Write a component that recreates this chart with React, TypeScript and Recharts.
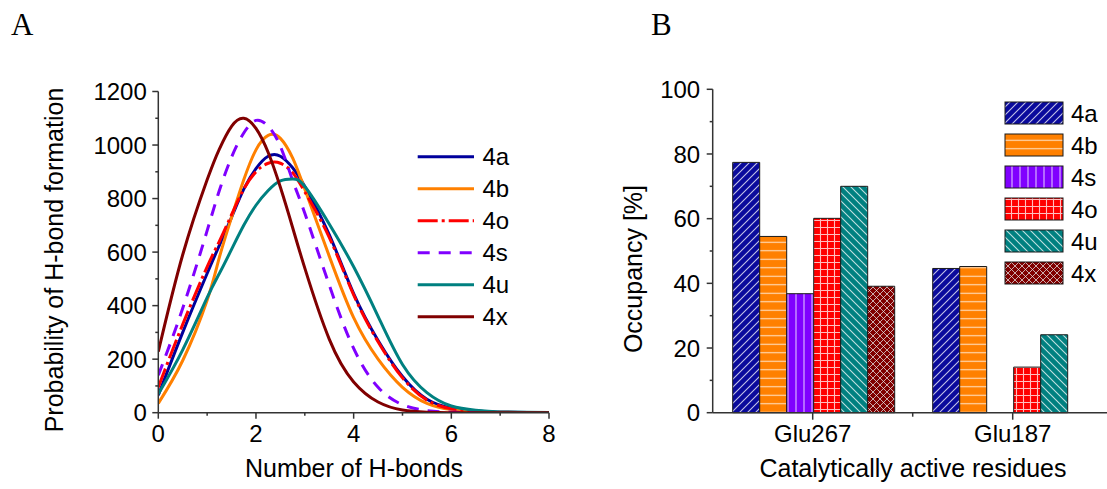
import React from 'react';
import { LineChart, Line, XAxis, YAxis, BarChart, Bar } from 'recharts';

const FONT = '"Liberation Sans", Arial, sans-serif';
const SERIF = '"Liberation Serif", "Times New Roman", serif';
const AXIS = '#333';

// ---------- Panel A data ----------
const X_A = [0, 0.5, 1, 1.25, 1.5, 1.75, 2, 2.25, 2.5, 2.75, 3, 3.5, 4, 4.5, 5, 5.5, 6, 6.5, 7, 8];
const P_4a = [65, 300, 520, 625, 730, 835, 912, 958, 958, 915, 845, 665, 445, 270, 135, 50, 17, 6, 2, 0];
const P_4b = [35, 195, 420, 580, 730, 870, 982, 1036, 1025, 952, 835, 585, 355, 200, 95, 35, 12, 4, 1, 0];
const P_4o = [95, 330, 545, 640, 740, 835, 900, 932, 932, 897, 825, 655, 440, 265, 130, 47, 15, 5, 2, 0];
const P_4s = [140, 390, 680, 830, 955, 1045, 1092, 1070, 995, 868, 745, 477, 240, 95, 30, 8, 2, 0, 0, 0];
const P_4u = [70, 235, 430, 520, 610, 700, 775, 830, 866, 873, 845, 705, 545, 360, 180, 75, 25, 9, 3, 1];
const P_4x = [228, 590, 870, 985, 1070, 1100, 1062, 972, 842, 692, 540, 275, 115, 40, 10, 2, 0, 0, 0, 0];

const SERIES_A = [
  { key: '4a', color: '#00009C', dash: undefined as string | undefined, values: P_4a },
  { key: '4b', color: '#FF8000', dash: undefined, values: P_4b },
  { key: '4o', color: '#FF0000', dash: '20 4 3 4', values: P_4o },
  { key: '4s', color: '#8000FF', dash: '12 9', values: P_4s },
  { key: '4u', color: '#008080', dash: undefined, values: P_4u },
  { key: '4x', color: '#800000', dash: undefined, values: P_4x },
];

const X_TICKS_A = [0, 1, 2, 3, 4, 5, 6, 7, 8];
const X_LABELS_A = [0, 2, 4, 6, 8];
const Y_TICKS_A = [0, 100, 200, 300, 400, 500, 600, 700, 800, 900, 1000, 1100, 1200];
const Y_LABELS_A = [0, 200, 400, 600, 800, 1000, 1200];

const rowsA = X_A.map((x, i) => {
  const r: Record<string, number> = { x };
  SERIES_A.forEach((s) => { r[s.key] = s.values[i]; });
  return r;
});

// ---------- Panel B data ----------
const CATS = ['Glu267', 'Glu187'];
const B_4a = [77.4, 44.6];
const B_4b = [54.5, 45.2];
const B_4s = [36.8, 0];
const B_4o = [60.1, 14.1];
const B_4u = [70.0, 24.1];
const B_4x = [39.1, 0];

const SERIES_B = [
  { key: '4a', color: '#0A0A9C', values: B_4a },
  { key: '4b', color: '#FF8000', values: B_4b },
  { key: '4s', color: '#8000FF', values: B_4s },
  { key: '4o', color: '#FF0000', values: B_4o },
  { key: '4u', color: '#008080', values: B_4u },
  { key: '4x', color: '#800000', values: B_4x },
];

const Y_TICKS_B = [0, 10, 20, 30, 40, 50, 60, 70, 80, 90, 100];
const Y_LABELS_B = [0, 20, 40, 60, 80, 100];

const rowsB = CATS.map((c, i) => {
  const r: Record<string, any> = { cat: c };
  SERIES_B.forEach((s) => { r[s.key] = s.values[i]; });
  return r;
});

// ---------- layout ----------
const A_W = 600;
const H = 489;
const A_MARGIN = { top: 91.5, right: 51, left: 98.3, bottom: 36.3 };
const B_LEFT = 600;
const B_W = 520;
const B_MARGIN = { top: 89.3, right: 7.3, left: 52.7, bottom: 36.3 };
const Y_AXIS_W = 60;
const X_AXIS_H = 40;
const B_PLOT_W = B_W - B_MARGIN.left - B_MARGIN.right - Y_AXIS_W;
const HALF_BAND_B = B_PLOT_W / CATS.length / 2;

const TICK_FONT = 24;

function XTickA(props: any) {
  const { x, y, payload } = props;
  const major = X_LABELS_A.includes(payload.value);
  return (
    <g>
      <line x1={x} x2={x} y1={y} y2={y + (major ? 6 : 3)} stroke={AXIS} strokeWidth={1.5} />
      {major && (
        <text x={x} y={y + 29.5} textAnchor="middle" fontSize={TICK_FONT} fontFamily={FONT} fill="#000">
          {payload.value}
        </text>
      )}
    </g>
  );
}

function YTickA(props: any) {
  const { x, y, payload } = props;
  const major = Y_LABELS_A.includes(payload.value);
  return (
    <g>
      <line x1={x - (major ? 6 : 3)} x2={x} y1={y} y2={y} stroke={AXIS} strokeWidth={1.5} />
      {major && (
        <text x={x - 11.5} y={y + 8.6} textAnchor="end" fontSize={TICK_FONT} fontFamily={FONT} fill="#000">
          {payload.value}
        </text>
      )}
    </g>
  );
}

function YTickB(props: any) {
  const { x, y, payload } = props;
  const major = Y_LABELS_B.includes(payload.value);
  return (
    <g>
      <line x1={x - (major ? 6 : 3)} x2={x} y1={y} y2={y} stroke={AXIS} strokeWidth={1.5} />
      {major && (
        <text x={x - 12.5} y={y + 8.6} textAnchor="end" fontSize={TICK_FONT} fontFamily={FONT} fill="#000">
          {payload.value}
        </text>
      )}
    </g>
  );
}

function XTickB(props: any) {
  const { x, y, payload } = props;
  return (
    <g>
      <line x1={x} x2={x} y1={y} y2={y + 7} stroke={AXIS} strokeWidth={1.5} />
      <line x1={x + HALF_BAND_B} x2={x + HALF_BAND_B} y1={y} y2={y + 4} stroke={AXIS} strokeWidth={1.5} />
      <text x={x} y={y + 29.5} textAnchor="middle" fontSize={TICK_FONT} fontFamily={FONT} fill="#000">
        {payload.value}
      </text>
    </g>
  );
}

function Patterns() {
  const ln = 'rgba(255,255,255,0.75)';
  return (
    <defs>
      <pattern id="pat-4a" patternUnits="userSpaceOnUse" width="8" height="8">
        <rect width="8" height="8" fill="#0A0A9C" />
        <path d="M-2,2 L2,-2 M0,8 L8,0 M6,10 L10,6" stroke={ln} strokeWidth="1.1" />
      </pattern>
      <pattern id="pat-4b" patternUnits="userSpaceOnUse" width="8" height="8.5">
        <rect width="8" height="8.5" fill="#FF8000" />
        <path d="M0,4.25 L8,4.25" stroke={ln} strokeWidth="1.1" />
      </pattern>
      <pattern id="pat-4s" patternUnits="userSpaceOnUse" width="8" height="8">
        <rect width="8" height="8" fill="#8000FF" />
        <path d="M4,0 L4,8" stroke={ln} strokeWidth="1.1" />
      </pattern>
      <pattern id="pat-4o" patternUnits="userSpaceOnUse" width="7" height="7">
        <rect width="7" height="7" fill="#FF0000" />
        <path d="M3.5,0 L3.5,7 M0,3.5 L7,3.5" stroke={ln} strokeWidth="1.1" />
      </pattern>
      <pattern id="pat-4u" patternUnits="userSpaceOnUse" width="8" height="8">
        <rect width="8" height="8" fill="#008080" />
        <path d="M-2,6 L2,10 M0,0 L8,8 M6,-2 L10,2" stroke={ln} strokeWidth="1.1" />
      </pattern>
      <pattern id="pat-4x" patternUnits="userSpaceOnUse" width="7" height="7">
        <rect width="7" height="7" fill="#800000" />
        <path d="M0,0 L7,7 M0,7 L7,0" stroke="rgba(230,230,230,0.75)" strokeWidth="1" />
      </pattern>
    </defs>
  );
}

const LEG_A_X1 = 417.7;
const LEG_A_X2 = 474;
const LEG_A_TEXT = 482.5;
const LEG_A_TOP = 156.7;
const LEG_STEP = 32;
const LEG_B_X = 1005;
const LEG_B_W = 58;
const LEG_B_H = 22;
const LEG_B_TEXT = 1071;
const LEG_B_TOP = 113;

export default function App() {
  return (
    <div
      style={{
        position: 'absolute',
        left: 0,
        top: 0,
        width: 1107,
        height: 489,
        overflow: 'hidden',
        background: '#fff',
        fontFamily: FONT,
      }}
    >
      <div style={{ position: 'absolute', left: 0, top: 0 }}>
        <LineChart width={A_W} height={H} data={rowsA} margin={A_MARGIN}>
          <XAxis
            dataKey="x"
            type="number"
            domain={[0, 8]}
            ticks={X_TICKS_A}
            interval={0}
            height={X_AXIS_H}
            tickLine={false}
            tickSize={0}
            tickMargin={0}
            tick={XTickA}
            axisLine={{ stroke: AXIS, strokeWidth: 1.5 }}
            allowDataOverflow
          />
          <YAxis
            type="number"
            domain={[0, 1200]}
            ticks={Y_TICKS_A}
            interval={0}
            width={Y_AXIS_W}
            tickLine={false}
            tickSize={0}
            tickMargin={0}
            tick={YTickA}
            axisLine={{ stroke: AXIS, strokeWidth: 1.5 }}
            allowDataOverflow
          />
          {SERIES_A.map((s) => (
            <Line
              key={s.key}
              type="natural"
              dataKey={s.key}
              stroke={s.color}
              strokeWidth={3}
              strokeDasharray={s.dash}
              dot={false}
              activeDot={false}
              isAnimationActive={false}
            />
          ))}
        </LineChart>
      </div>

      <div style={{ position: 'absolute', left: B_LEFT, top: 0 }}>
        <BarChart width={B_W} height={H} data={rowsB} margin={B_MARGIN} barCategoryGap="10%" barGap={0}>
          <XAxis
            dataKey="cat"
            height={X_AXIS_H}
            interval={0}
            tickLine={false}
            tickSize={0}
            tickMargin={0}
            tick={XTickB}
            axisLine={{ stroke: AXIS, strokeWidth: 1.5 }}
          />
          <YAxis
            type="number"
            domain={[0, 100]}
            ticks={Y_TICKS_B}
            interval={0}
            width={Y_AXIS_W}
            tickLine={false}
            tickSize={0}
            tickMargin={0}
            tick={YTickB}
            axisLine={{ stroke: AXIS, strokeWidth: 1.5 }}
          />
          {SERIES_B.map((s) => (
            <Bar
              key={s.key}
              dataKey={s.key}
              fill={`url(#pat-${s.key})`}
              stroke="#1a1a1a"
              strokeWidth={1}
              isAnimationActive={false}
            />
          ))}
        </BarChart>
      </div>

      <svg
        width={1107}
        height={489}
        style={{ position: 'absolute', left: 0, top: 0, pointerEvents: 'none' }}
      >
        <Patterns />
        <text x={11} y={35} fontFamily={SERIF} fontSize={31} fill="#000">A</text>
        <text x={651} y={35} fontFamily={SERIF} fontSize={31} fill="#000">B</text>

        <text x={354} y={477} textAnchor="middle" fontSize={25} fontFamily={FONT} fill="#000">
          Number of H-bonds
        </text>
        <text
          x={63}
          y={260}
          textAnchor="middle"
          fontSize={25}
          fontFamily={FONT}
          fill="#000"
          transform="rotate(-90, 63, 260)"
        >
          Probability of H-bond formation
        </text>
        <text x={913} y={477} textAnchor="middle" fontSize={25} fontFamily={FONT} fill="#000">
          Catalytically active residues
        </text>
        <text
          x={642}
          y={269}
          textAnchor="middle"
          fontSize={25}
          fontFamily={FONT}
          fill="#000"
          transform="rotate(-90, 642, 269)"
        >
          Occupancy [%]
        </text>

        {SERIES_A.map((s, i) => {
          const cy = LEG_A_TOP + i * LEG_STEP;
          return (
            <g key={s.key}>
              <line x1={LEG_A_X1} x2={LEG_A_X2} y1={cy} y2={cy} stroke={s.color} strokeWidth={3} strokeDasharray={s.dash} />
              <text x={LEG_A_TEXT} y={cy + 8.6} fontSize={TICK_FONT} fontFamily={FONT} fill="#000">{s.key}</text>
            </g>
          );
        })}

        {SERIES_B.map((s, i) => {
          const cy = LEG_B_TOP + i * LEG_STEP;
          return (
            <g key={s.key}>
              <rect x={LEG_B_X} y={cy - LEG_B_H / 2} width={LEG_B_W} height={LEG_B_H} fill={`url(#pat-${s.key})`} stroke="#1a1a1a" strokeWidth={1} />
              <text x={LEG_B_TEXT} y={cy + 8.6} fontSize={TICK_FONT} fontFamily={FONT} fill="#000">{s.key}</text>
            </g>
          );
        })}
      </svg>
    </div>
  );
}
